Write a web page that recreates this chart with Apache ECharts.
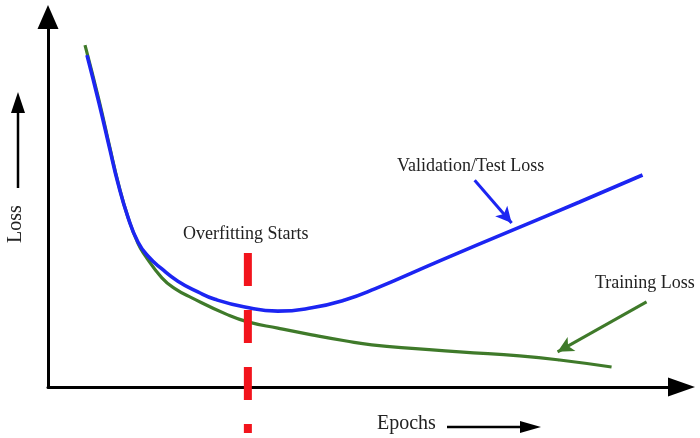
<!DOCTYPE html>
<html>
<head>
<meta charset="utf-8">
<script src="https://cdn.jsdelivr.net/npm/echarts@6/dist/echarts.min.js"></script>
<style>
  html, body { margin: 0; padding: 0; background: #fff; }
  #chart { width: 700px; height: 438px; }
</style>
</head>
<body>
<div id="chart"></div>
<script>
// curves: [epoch, loss]
var validationLoss = [
    [6.15, 8.97], [8.04, 7.68], [9.78, 6.41], [11.04, 5.51], [12.62, 4.59],
    [14.20, 3.92], [15.77, 3.54], [17.98, 3.19], [20.50, 2.86], [23.66, 2.57],
    [26.34, 2.37], [31.07, 2.16], [36.28, 2.05], [41.64, 2.14], [46.85, 2.35],
    [51.58, 2.65], [61.83, 3.41], [73.34, 4.24], [83.91, 5.00], [93.85, 5.73]
];
var trainingLoss = [
    [5.84, 9.24], [8.04, 7.76], [9.78, 6.46], [11.04, 5.54], [12.62, 4.59],
    [14.20, 3.88], [15.30, 3.56], [17.98, 2.95], [20.03, 2.66], [22.71, 2.41],
    [28.39, 1.95], [31.55, 1.76], [36.28, 1.59], [41.64, 1.41], [46.85, 1.25],
    [51.10, 1.14], [64.98, 0.95], [74.45, 0.84], [80.76, 0.73], [88.96, 0.54]
];
// overfitting marker (dashed red), runs below the epoch axis
var overfitEpoch = 31.55;
var overfitSpan = [3.62, -1.24];
// pointer arrows to the curves
var valArrow = [[67.35, 5.59], [73.19, 4.43]];
var trainArrow = [[94.48, 2.30], [80.44, 0.95]];

var labels = {
    validation: 'Validation/Test Loss',
    training: 'Training Loss',
    overfit: 'Overfitting Starts',
    x: 'Epochs',
    y: 'Loss'
};

var serif = '"Liberation Serif", "Times New Roman", serif';
var blue = '#1c25f2';
var green = '#3f7a2a';
var red = '#f2141c';

var myChart = echarts.init(document.getElementById('chart'));

function arrowLine(pts, color) {
    return {
        silent: true,
        symbol: ['none', 'arrow'],
        symbolSize: [12, 16],
        label: { show: false },
        lineStyle: { color: color, width: 3, type: 'solid' },
        emphasis: { disabled: true },
        data: [[{ coord: pts[0] }, { coord: pts[1] }]]
    };
}

var option = {
    animation: false,
    backgroundColor: '#fff',
    grid: { left: 48, right: 18.5, top: 17, bottom: 51 },
    xAxis: {
        type: 'value',
        min: 0,
        max: 100,
        axisLine: {
            onZero: false,
            symbol: ['none', 'triangle'],
            symbolSize: [19, 27],
            lineStyle: { color: '#000', width: 3 }
        },
        axisTick: { show: false },
        axisLabel: { show: false },
        splitLine: { show: false }
    },
    yAxis: {
        type: 'value',
        min: 0,
        max: 10,
        axisLine: {
            show: true,
            onZero: false,
            symbol: ['none', 'triangle'],
            symbolSize: [21, 24],
            lineStyle: { color: '#000', width: 3 }
        },
        axisTick: { show: false },
        axisLabel: { show: false },
        splitLine: { show: false }
    },
    series: [
        {
            name: labels.training,
            type: 'line',
            smooth: 0.5,
            showSymbol: false,
            data: trainingLoss,
            lineStyle: { color: green, width: 3.2 },
            markLine: arrowLine(trainArrow, green),
            z: 2
        },
        {
            name: labels.validation,
            type: 'line',
            smooth: 0.5,
            showSymbol: false,
            data: validationLoss,
            lineStyle: { color: blue, width: 3.6 },
            markLine: arrowLine(valArrow, blue),
            z: 3
        },
        {
            name: labels.overfit,
            type: 'line',
            clip: false,
            showSymbol: false,
            data: [[overfitEpoch, overfitSpan[0]], [overfitEpoch, overfitSpan[1]]],
            lineStyle: { color: red, width: 8, type: [33, 24] },
            z: 4
        }
    ],
    graphic: [
        {
            type: 'text', left: 397, top: 157,
            style: { text: labels.validation, font: '18px ' + serif, fill: '#222' }
        },
        {
            type: 'text', left: 595, top: 274,
            style: { text: labels.training, font: '18px ' + serif, fill: '#222' }
        },
        {
            type: 'text', left: 183, top: 225,
            style: { text: labels.overfit, font: '18px ' + serif, fill: '#222' }
        },
        {
            type: 'text', left: 377, top: 414,
            style: { text: labels.x, font: '20px ' + serif, fill: '#222' }
        },
        {
            type: 'line',
            shape: { x1: 447, y1: 427, x2: 524, y2: 427 },
            style: { stroke: '#000', lineWidth: 2.5 }
        },
        {
            type: 'polygon',
            shape: { points: [[520, 421], [541, 427], [520, 433]] },
            style: { fill: '#000' }
        },
        {
            type: 'text', x: 6, y: 243, rotation: Math.PI / 2,
            style: { text: labels.y, font: '20px ' + serif, fill: '#222' }
        },
        {
            type: 'line',
            shape: { x1: 18, y1: 188, x2: 18, y2: 108 },
            style: { stroke: '#000', lineWidth: 2.5 }
        },
        {
            type: 'polygon',
            shape: { points: [[11, 113], [18, 92], [25, 113]] },
            style: { fill: '#000' }
        }
    ]
};

myChart.setOption(option);
</script>
</body>
</html>
